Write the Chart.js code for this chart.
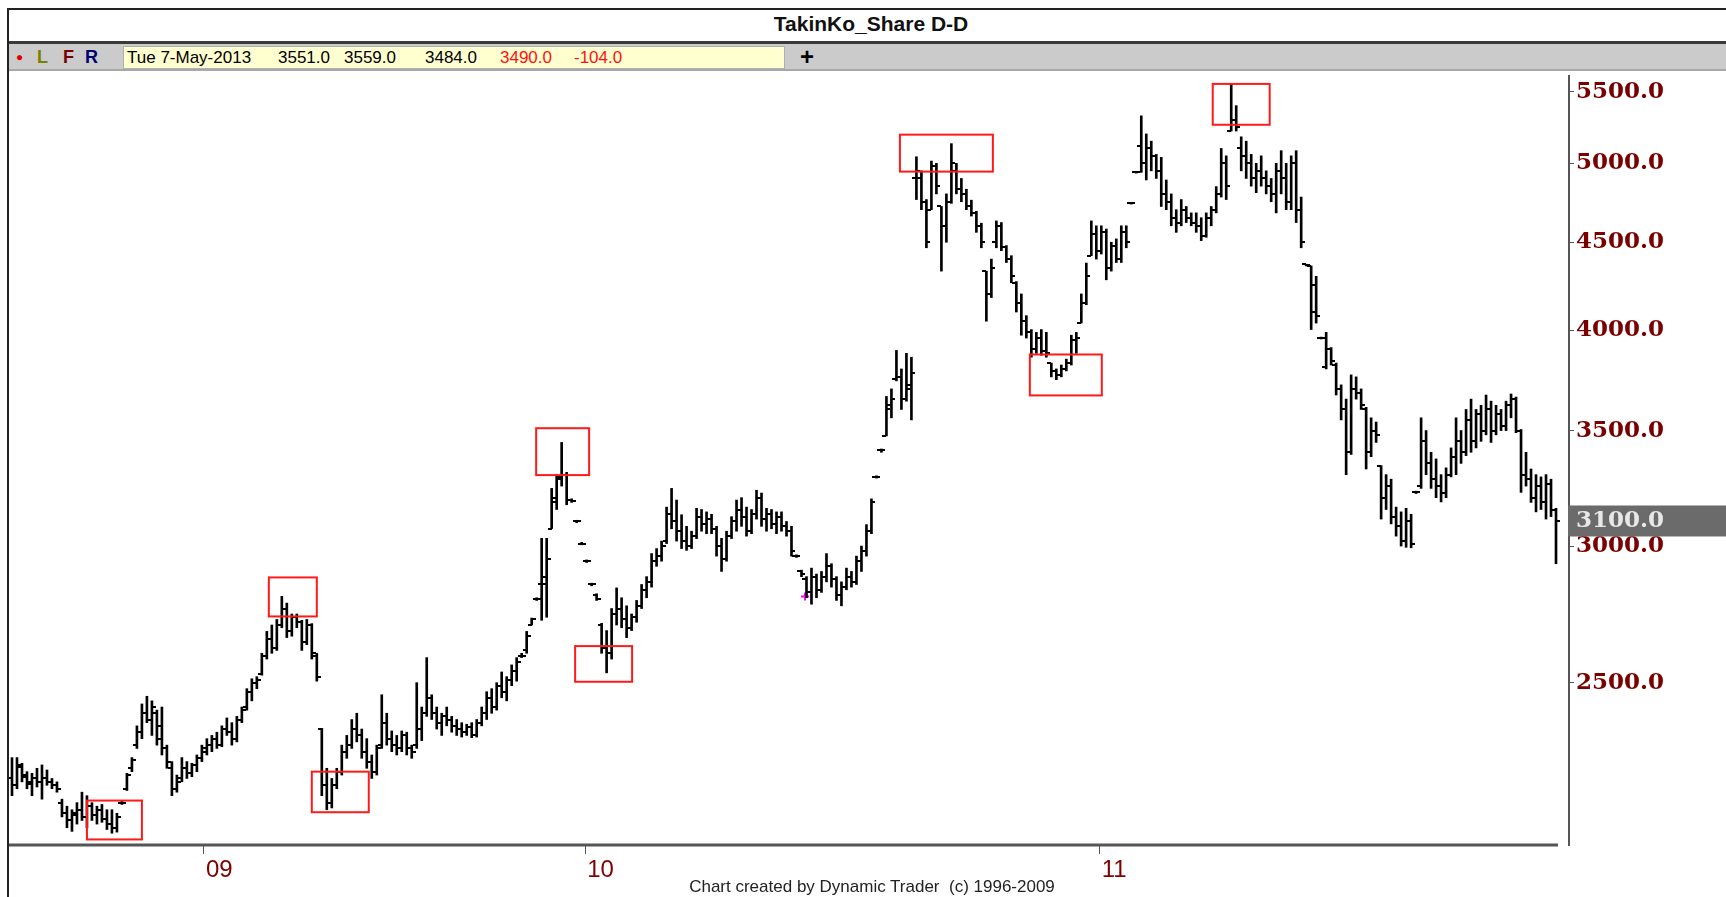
<!DOCTYPE html>
<html>
<head>
<meta charset="utf-8">
<title>TakinKo_Share D-D</title>
<script src="https://cdn.jsdelivr.net/npm/chart.js@4.4.1/dist/chart.umd.min.js"></script>
<style>
  html, body { margin: 0; padding: 0; background: #fff; }
  body { width: 1726px; height: 897px; position: relative; overflow: hidden; font-family: "Liberation Sans", sans-serif; }
  .abs { position: absolute; }
  #frameTop { left: 7px; top: 8px; right: 0; height: 2px; background: #222; }
  #frameLeft { left: 7px; top: 8px; width: 2px; bottom: 0; background: #222; z-index: 5; }
  #title { left: 0; width: 1742px; top: 12px; text-align: center; font-weight: bold; font-size: 21px; color: #111; }
  #titleLine { left: 7px; right: 0; top: 41px; height: 3px; background: #3a3a3a; }
  #toolbar { left: 9px; right: 0; top: 44px; height: 25px; background: #cbcbcb; }
  #toolbarLine { left: 9px; right: 0; top: 69px; height: 2px; background: #a8a8a8; }
  #quote { left: 123px; top: 46px; width: 660px; height: 21px; background: #ffffd0; border: 1px solid #b0b0b0; }
  .tb { top: 47px; font-size: 17px; line-height: 21px; white-space: pre; }
  .lfr { top: 47px; font-size: 18px; line-height: 21px; font-weight: bold; }
  #plot { left: 0; top: 70px; width: 1726px; height: 827px; }
  #footer { left: 0; width: 1744px; top: 877px; text-align: center; font-size: 17px; color: #222; white-space: pre; z-index: 4; }
</style>
</head>
<body>
<div id="frameTop" class="abs"></div>
<div id="frameLeft" class="abs"></div>
<div id="title" class="abs">TakinKo_Share D-D</div>
<div id="titleLine" class="abs"></div>
<div id="toolbar" class="abs"></div>
<div id="toolbarLine" class="abs"></div>
<div id="quote" class="abs"></div>
<div class="abs lfr" style="left:16px; color:#e00000; font-size:12px;">&#9679;</div>
<div class="abs lfr" style="left:37px; color:#7d7d00;">L</div>
<div class="abs lfr" style="left:63px; color:#7a0000;">F</div>
<div class="abs lfr" style="left:85px; color:#00006e;">R</div>
<div class="abs tb" style="left:127px;">Tue 7-May-2013</div>
<div class="abs tb" style="left:278px;">3551.0</div>
<div class="abs tb" style="left:344px;">3559.0</div>
<div class="abs tb" style="left:425px;">3484.0</div>
<div class="abs tb" style="left:500px; color:#ff1010;">3490.0</div>
<div class="abs tb" style="left:574px; color:#ff1010;">-104.0</div>
<div class="abs" style="left:800px; top:44px; font-size:24px; line-height:26px; font-weight:bold;">+</div>
<div id="plot" class="abs"><canvas id="chart" width="1726" height="827"></canvas></div>
<div id="footer" class="abs">Chart created by Dynamic Trader  (c) 1996-2009</div>

<script>
// Daily OHLC bars (one entry per bar, left to right)
const opens = [
  2200,2180,2235,2205,2190,2200,2190,2200,2190,2180,
  2130,2100,2080,2095,2110,2090,2120,2095,2110,2085,
  2070,2060,2130,2170,2230,2300,2340,2400,2380,2400,
  2360,2290,2230,2170,2200,2230,2215,2240,2260,2280,
  2300,2320,2300,2350,2340,2320,2380,2420,2470,2500,
  2530,2590,2650,2620,2700,2760,2680,2730,2710,2640,
  2700,2590,2350,2180,2130,2180,2220,2280,2300,2350,
  2330,2280,2250,2220,2300,2370,2320,2300,2290,2330,
  2290,2300,2350,2400,2450,2400,2370,2390,2380,2360,
  2350,2340,2355,2330,2370,2400,2450,2420,2490,2470,
  2510,2540,2590,2610,2700,2795,2850,2880,3071,3200,
  3290,3300,3190,3100,3010,2940,2850,2810,2700,2620,
  2600,2740,2760,2720,2690,2730,2770,2830,2860,2940,
  2960,3020,3130,3100,3060,3020,3000,3040,3120,3090,
  3110,3070,3000,2950,3040,3100,3150,3120,3060,3130,
  3200,3110,3130,3090,3120,3080,3060,2960,2900,2870,
  2820,2880,2830,2880,2920,2870,2810,2840,2880,2860,
  2940,2980,3060,3290,3410,3475,3620,3750,3760,3650,
  3720,4900,4900,4750,4700,4980,4720,4600,4750,4950,
  4830,4800,4720,4680,4600,4330,4200,4500,4600,4470,
  4400,4260,4150,4050,3990,3900,3960,3890,3830,3790,
  3770,3800,3830,3950,4040,4150,4420,4550,4450,4560,
  4350,4480,4400,4560,4740,4940,5120,5000,5100,5050,
  4950,4800,4750,4650,4620,4700,4650,4620,4600,4540,
  4650,4700,4800,5000,5220,5300,5100,5050,5000,4900,
  4950,4900,4850,4800,4950,4900,4750,5000,4700,4370,
  4360,4250,3960,3810,3900,3820,3700,3600,3400,3700,
  3680,3600,3400,3500,3340,3200,3250,3120,3080,3020,
  3100,3223,3250,3450,3350,3280,3250,3220,3300,3380,
  3450,3400,3550,3450,3580,3500,3600,3500,3580,3520,
  3620,3650,3500,3300,3280,3200,3250,3180,3260,3150
];
const highs = [
  2262,2262,2245,2220,2215,2230,2240,2225,2200,2190,
  2140,2120,2110,2130,2160,2150,2130,2120,2125,2110,
  2110,2100,2135,2215,2262,2360,2430,2455,2440,2410,
  2420,2300,2250,2210,2262,2250,2245,2270,2300,2320,
  2330,2340,2360,2385,2370,2390,2420,2480,2513,2520,
  2600,2677,2700,2720,2805,2780,2740,2740,2717,2720,
  2705,2600,2352,2230,2200,2230,2300,2330,2380,2400,
  2350,2320,2270,2300,2460,2400,2344,2330,2344,2340,
  2300,2500,2420,2585,2460,2420,2400,2420,2390,2380,
  2370,2365,2370,2380,2420,2470,2480,2500,2536,2520,
  2560,2585,2600,2677,2725,2800,3031,3031,3240,3300,
  3445,3310,3195,3105,3015,2945,2855,2815,2706,2680,
  2760,2837,2800,2770,2740,2790,2850,2880,2970,2990,
  3020,3160,3240,3190,3128,3080,3060,3155,3150,3140,
  3130,3080,3031,3060,3120,3190,3200,3160,3150,3232,
  3220,3155,3150,3140,3140,3100,3080,2965,2905,2880,
  2913,2890,2900,2970,2930,2880,2860,2913,2900,2960,
  3000,3087,3195,3295,3415,3663,3700,3895,3800,3880,
  3860,5044,4950,4764,5015,5000,4720,4800,5133,5000,
  4900,4830,4760,4690,4616,4330,4400,4630,4620,4480,
  4420,4270,4200,4080,4005,3990,4005,3990,3830,3800,
  3820,3850,3975,3990,4200,4377,4630,4600,4600,4580,
  4500,4520,4600,4600,4745,4945,5327,5200,5150,5060,
  5040,4890,4800,4700,4764,4720,4680,4680,4650,4680,
  4720,4847,5100,5050,5560,5400,5180,5150,5060,5000,
  5050,4950,4900,5000,5085,5000,5050,5085,4780,4370,
  4360,4300,3965,3990,3910,3830,3720,3650,3770,3760,
  3700,3610,3560,3540,3340,3300,3280,3160,3140,3155,
  3130,3228,3560,3500,3400,3370,3300,3330,3420,3560,
  3500,3600,3650,3600,3620,3670,3640,3620,3600,3640,
  3675,3660,3505,3400,3325,3300,3290,3300,3280,3155
];
const lows = [
  2150,2170,2190,2170,2150,2175,2140,2180,2170,2160,
  2090,2060,2050,2070,2080,2060,2080,2070,2075,2055,
  2045,2048,2125,2165,2220,2290,2320,2370,2330,2300,
  2270,2230,2150,2160,2190,2200,2205,2220,2250,2270,
  2280,2290,2295,2330,2300,2310,2370,2410,2440,2480,
  2525,2580,2600,2610,2690,2655,2660,2690,2610,2630,
  2580,2505,2150,2110,2115,2170,2210,2260,2290,2310,
  2260,2230,2200,2210,2290,2300,2280,2270,2280,2270,
  2260,2290,2314,2390,2380,2350,2330,2360,2340,2330,
  2325,2330,2323,2325,2360,2380,2400,2410,2450,2440,
  2490,2505,2585,2600,2700,2790,2717,2728,3071,3150,
  3250,3170,3180,3095,3005,2935,2845,2790,2600,2533,
  2580,2700,2690,2655,2680,2710,2760,2800,2840,2920,
  2940,3010,3070,3020,2990,2983,2990,3030,3060,3050,
  3050,2960,2900,2940,3030,3060,3080,3040,3050,3110,
  3080,3060,3070,3050,3060,3040,2960,2955,2880,2800,
  2776,2800,2820,2860,2840,2790,2770,2830,2840,2850,
  2900,2960,3050,3285,3400,3475,3560,3740,3600,3640,
  3550,4764,4700,4467,4700,4800,4330,4500,4740,4800,
  4750,4700,4660,4560,4467,4050,4180,4467,4450,4380,
  4263,4100,3975,3960,3860,3880,3870,3860,3760,3746,
  3760,3790,3820,3880,4040,4140,4420,4400,4430,4280,
  4330,4380,4380,4467,4735,4935,4940,4890,4950,4900,
  4720,4700,4600,4560,4600,4620,4600,4560,4510,4530,
  4600,4680,4780,4764,5220,5220,4950,4900,4850,4808,
  4850,4800,4750,4680,4800,4700,4700,4620,4467,4360,
  4005,4040,3955,3800,3820,3670,3550,3300,3390,3650,
  3600,3325,3380,3445,3110,3150,3090,3040,3000,2995,
  2993,3218,3240,3300,3240,3200,3182,3200,3290,3300,
  3350,3385,3400,3420,3450,3480,3445,3480,3500,3500,
  3560,3490,3223,3250,3180,3140,3150,3110,3120,2930
];
const closes = [
  2180,2240,2210,2185,2200,2190,2200,2190,2180,2170,
  2100,2080,2100,2110,2090,2120,2095,2110,2085,2070,
  2060,2090,2130,2210,2255,2340,2400,2380,2420,2320,
  2290,2250,2170,2190,2230,2215,2240,2260,2290,2300,
  2320,2300,2350,2340,2320,2380,2410,2470,2500,2510,
  2590,2650,2620,2700,2760,2680,2730,2710,2640,2700,
  2600,2520,2180,2130,2180,2220,2280,2300,2350,2330,
  2280,2250,2220,2290,2370,2320,2300,2290,2330,2290,
  2280,2350,2400,2450,2400,2370,2390,2380,2360,2350,
  2340,2355,2330,2370,2400,2450,2420,2490,2470,2510,
  2540,2570,2590,2660,2720,2795,2850,2950,3180,3280,
  3300,3190,3185,3100,3010,2940,2850,2795,2620,2600,
  2740,2760,2720,2690,2730,2770,2830,2860,2940,2960,
  3000,3130,3100,3060,3020,3000,3040,3120,3090,3110,
  3070,3000,2950,3040,3100,3150,3120,3060,3130,3200,
  3110,3130,3090,3120,3080,3060,2980,2960,2890,2820,
  2880,2830,2880,2920,2870,2810,2840,2880,2860,2940,
  2980,3060,3180,3290,3410,3600,3650,3760,3650,3700,
  3780,4950,4750,4500,4980,4850,4600,4750,5000,4830,
  4800,4720,4680,4600,4500,4200,4350,4600,4470,4400,
  4300,4150,4050,3990,3900,3960,3890,3880,3790,3770,
  3800,3830,3950,3960,4150,4300,4550,4450,4560,4350,
  4480,4400,4560,4500,4740,4940,5000,5100,5050,4950,
  4800,4750,4650,4620,4700,4650,4620,4600,4540,4650,
  4700,4800,5000,4850,5300,5250,5050,5000,4900,4950,
  4900,4850,4800,4950,4900,4750,5000,4700,4500,4365,
  4100,4080,3960,3900,3840,3700,3600,3400,3700,3680,
  3620,3400,3500,3480,3200,3250,3120,3080,3020,3100,
  3010,3223,3450,3350,3280,3250,3220,3300,3380,3450,
  3400,3550,3450,3580,3500,3600,3500,3580,3520,3620,
  3650,3500,3300,3280,3200,3250,3180,3260,3150,3100
];

// x axis: period labels and the bar position where each period starts
const periodLabels = ['09', '10', '11'];
const periodStarts = [38.4, 114.7, 217.7];

// y axis (log scale) price labels and range
const priceTicks = [2500, 3000, 3500, 4000, 4500, 5000, 5500];
const priceMin = 2013;
const priceMax = 5618;

// red annotation boxes drawn on the chart (bar index range, price range)
const boxFrom = [15.0, 51.4, 60.0, 104.9, 112.7, 177.7, 203.7, 240.3];
const boxTo   = [26.0, 61.0, 71.4, 115.5, 124.1, 196.3, 218.1, 251.7];
const boxHigh = [2136, 2877, 2220, 3511, 2625, 5195, 3874, 5559];
const boxLow  = [2028, 2731, 2103, 3298, 2503, 4945, 3668, 5264];

// small magenta marker
const markerBar = [158.7];
const markerPrice = [2805];

// open tick on the left, close tick on the right of each bar
const ohlcTicks = {
  id: 'ohlcTicks',
  afterDatasetsDraw(chart) {
    const { ctx, scales: { x, y } } = chart;
    ctx.save();
    ctx.strokeStyle = '#000';
    ctx.lineWidth = 2;
    ctx.beginPath();
    opens.forEach((o, i) => {
      const px = Math.round(x.getPixelForValue(i));
      const yo = Math.round(y.getPixelForValue(o));
      const yc = Math.round(y.getPixelForValue(closes[i]));
      ctx.moveTo(px - 4, yo);
      ctx.lineTo(px, yo);
      ctx.moveTo(px, yc);
      ctx.lineTo(px + 4, yc);
    });
    ctx.stroke();

    // red boxes
    ctx.strokeStyle = '#ff1a1a';
    ctx.lineWidth = 2;
    boxFrom.forEach((b, i) => {
      const x1 = x.getPixelForValue(b);
      const x2 = x.getPixelForValue(boxTo[i]);
      const y1 = y.getPixelForValue(boxHigh[i]);
      const y2 = y.getPixelForValue(boxLow[i]);
      ctx.strokeRect(x1, y1, x2 - x1, y2 - y1);
    });
    ctx.restore();
  }
};

// bottom axis line and the last price tag on the right axis
const chartChrome = {
  id: 'chartChrome',
  afterDraw(chart) {
    const { ctx, chartArea, scales: { y } } = chart;
    ctx.save();
    ctx.strokeStyle = '#555';
    ctx.lineWidth = 3;
    ctx.beginPath();
    ctx.moveTo(8, chartArea.bottom);
    ctx.lineTo(chartArea.right - 11, chartArea.bottom);
    ctx.stroke();

    const last = closes[closes.length - 1];
    const py = y.getPixelForValue(last);
    ctx.fillStyle = '#6b6b6b';
    ctx.fillRect(chartArea.right - 1, py - 16, chart.width - chartArea.right + 1, 31);
    ctx.fillStyle = '#e8e8e8';
    ctx.font = 'bold 23px "DejaVu Serif"';
    ctx.textBaseline = 'middle';
    ctx.fillText(last.toFixed(1), chartArea.right + 7, py);
    ctx.restore();
  }
};

const ctx = document.getElementById('chart');
new Chart(ctx, {
  data: {
    datasets: [{
      type: 'bar',
      data: highs.map((h, i) => ({ x: i, y: [lows[i], h] })),
      backgroundColor: '#000',
      borderWidth: 0,
      barThickness: 2,
      grouped: false
    }, {
      type: 'scatter',
      data: markerBar.map((b, i) => ({ x: b, y: markerPrice[i] })),
      pointStyle: 'cross',
      radius: 4,
      borderColor: '#ff00ff',
      borderWidth: 2
    }]
  },
  options: {
    responsive: false,
    animation: false,
    devicePixelRatio: 1,
    layout: { padding: { left: 10, top: 2, right: 0, bottom: 0 } },
    plugins: {
      legend: { display: false },
      tooltip: { enabled: false },
      title: { display: false }
    },
    scales: {
      x: {
        type: 'linear',
        position: 'bottom',
        min: -0.4,
        max: 311.6,
        offset: false,
        border: { display: false },
        grid: { offset: false, drawOnChartArea: false, drawTicks: true, tickLength: 9, color: '#555', lineWidth: 1 },
        afterBuildTicks: (scale) => { scale.ticks = periodStarts.map(v => ({ value: v })); },
        afterFit: (scale) => { scale.height = 52; scale.paddingLeft = 0; scale.paddingRight = 0; },
        ticks: {
          autoSkip: false,
          maxRotation: 0,
          minRotation: 0,
          align: 'start',
          labelOffset: 2,
          padding: 2,
          color: '#800000',
          font: { family: 'Liberation Sans', size: 24 },
          callback: (v, i) => periodLabels[i]
        }
      },
      y: {
        type: 'logarithmic',
        position: 'right',
        min: priceMin,
        max: priceMax,
        border: { display: true, color: '#555', width: 2 },
        grid: { drawOnChartArea: false, drawTicks: true, tickLength: 5, color: '#555', lineWidth: 1 },
        afterBuildTicks: (scale) => { scale.ticks = priceTicks.map(v => ({ value: v })); },
        afterFit: (scale) => { scale.width = 157; scale.paddingTop = 0; scale.paddingBottom = 0; },
        ticks: {
          padding: 2,
          color: '#7a0000',
          font: { family: 'DejaVu Serif', size: 23, weight: 'bold' },
          callback: (v) => Number(v).toFixed(1)
        }
      }
    }
  },
  plugins: [ohlcTicks, chartChrome]
});
</script>
</body>
</html>
